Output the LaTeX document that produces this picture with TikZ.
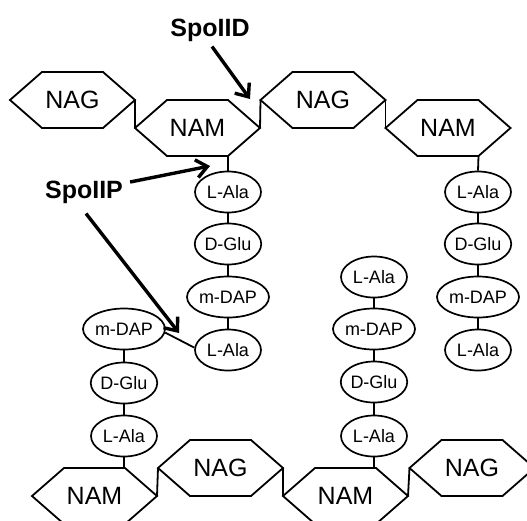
\documentclass[tikz,border=0pt]{standalone}
\usepackage{fontspec}
\setmainfont{Liberation Sans}
\usetikzlibrary{shapes.geometric,arrows.meta}
\newcommand\hexdraw[1]{\draw[hexline] (#1.north west) -- (#1.north east)
  -- ([xshift=32pt]#1.east) -- (#1.south east) -- (#1.south west)
  -- ([xshift=-32pt]#1.west) -- cycle;}
\begin{document}
\begin{tikzpicture}[x=1pt,y=-1pt,
  hexa/.style={rectangle, minimum width=61pt, minimum height=56pt,
    inner sep=0pt, outer sep=0pt, font=\fontsize{25}{25}\selectfont},
  hexline/.style={line width=1.8pt, line join=miter},
  pep/.style={draw, ellipse, line width=1.7pt, minimum width=66pt,
    minimum height=41pt, inner sep=0pt, font=\fontsize{18}{18}\selectfont},
  link/.style={line width=1.8pt},
  arr/.style={line width=3.4pt, -{Straight Barb[length=11pt,width=18pt]}},
  lab/.style={font=\bfseries\fontsize{25}{25}\selectfont, inner sep=2pt}]
\clip (0,0) rectangle (527,520);
\fill[white] (0,0) rectangle (527,520);
% glycan strands
\node[hexa] (nag1) at (72.5,100) {NAG};
\node[hexa] (nam1) at (197.5,128) {NAM};
\node[hexa] (nag2) at (323,100) {NAG};
\node[hexa] (nam2) at (448,128) {NAM};
\node[hexa] (nam3) at (94.5,496) {NAM};
\node[hexa] (nag3) at (220.5,468) {NAG};
\node[hexa] (nam4) at (345.5,496) {NAM};
\node[hexa] (nag4) at (472,468) {NAG};
\hexdraw{nag1}\hexdraw{nam1}\hexdraw{nag2}\hexdraw{nam2}
\hexdraw{nam3}\hexdraw{nag3}\hexdraw{nam4}\hexdraw{nag4}
\draw[link] ([xshift=32pt]nag1.east) -- ([xshift=-32pt]nam1.west);
\draw[link] ([xshift=32pt]nam1.east) -- ([xshift=-32pt]nag2.west);
\draw[link] ([xshift=32pt]nag2.east) -- ([xshift=-32pt]nam2.west);
\draw[link] ([xshift=32pt]nam3.east) -- ([xshift=-32pt]nag3.west);
\draw[link] ([xshift=32pt]nag3.east) -- ([xshift=-32pt]nam4.west);
\draw[link] ([xshift=32pt]nam4.east) -- ([xshift=-32pt]nag4.west);
% stem 1
\node[pep] (a1) at (228,192) {L-Ala};
\node[pep] (g1) at (228,244) {D-Glu};
\node[pep] (d1) at (228,297) {m-DAP};
\node[pep] (b1) at (228,350) {L-Ala};
% stem 4
\node[pep] (a4) at (478,192) {L-Ala};
\node[pep] (g4) at (478,244) {D-Glu};
\node[pep] (d4) at (478,297) {m-DAP};
\node[pep] (b4) at (478,350) {L-Ala};
% stem 3
\node[pep] (b3) at (374,277) {L-Ala};
\node[pep] (d3) at (374,329) {m-DAP};
\node[pep] (g3) at (374,382) {D-Glu};
\node[pep] (a3) at (374,436) {L-Ala};
% stem 2
\node[pep] (d2) at (124,329) {m-DAP};
\node[pep] (g2) at (124,383) {D-Glu};
\node[pep] (a2) at (124,436) {L-Ala};
% peptide links
\draw[link] (nam1.south east) -- (a1.north);
\draw[link] (a1) -- (g1);
\draw[link] (g1) -- (d1);
\draw[link] (d1) -- (b1);
\draw[link] (nam2.south east) -- (a4.north);
\draw[link] (a4) -- (g4);
\draw[link] (g4) -- (d4);
\draw[link] (d4) -- (b4);
\draw[link] (b3) -- (d3);
\draw[link] (d3) -- (g3);
\draw[link] (g3) -- (a3);
\draw[link] (a3.south) -- (a3.south |- nam4.north);
\draw[link] (d2) -- (g2);
\draw[link] (g2) -- (a2);
\draw[link] (a2.south) -- (a2.south |- nam3.north);
\draw[link] (d2.-5) -- (b1.176);
% enzymes
\node[lab] (spoiid) at (210,30) {SpoIID};
\node[lab] (spoiip) at (84,192) {SpoIIP};
\coordinate (tipD) at (250,99);
\coordinate (tipP1) at (210,166);
\coordinate (tipP2) at (179,333);
\draw[arr] ([xshift=2pt,yshift=-3pt]spoiid.south) -- (tipD);
\draw[arr] ([xshift=5pt,yshift=10pt]spoiip.east) -- (tipP1);
\draw[arr] ([xshift=2pt,yshift=-8pt]spoiip.south) -- (tipP2);
\end{tikzpicture}
\end{document}
